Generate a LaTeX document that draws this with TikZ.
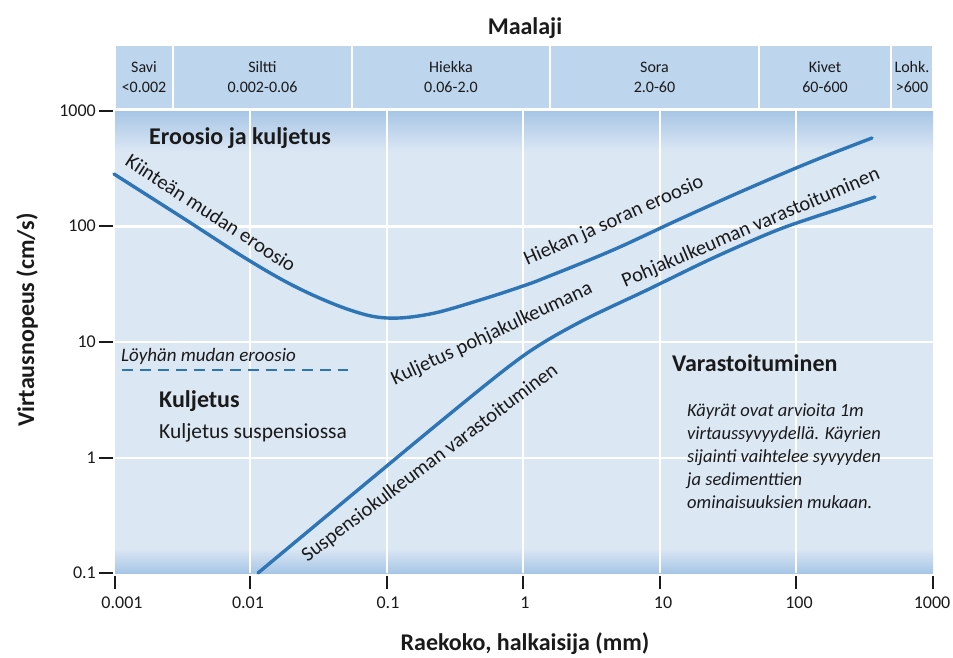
\documentclass[tikz,border=0pt]{standalone}
\usepackage{fontspec}
\setmainfont{Carlito}
\usetikzlibrary{positioning}

\definecolor{plotbg}{HTML}{DCE7F4}
\definecolor{headbg}{HTML}{BDD6EE}
\definecolor{bandbg}{HTML}{A7C6E6}
\definecolor{curveblue}{HTML}{2E75B6}
\definecolor{ink}{HTML}{1A1A1A}

\begin{document}
\begin{tikzpicture}[x=1pt, y=-1pt, text=ink,
    headbox/.style = {draw=white, line width=1.5pt, fill=headbg, align=center, inner sep=0pt,
                      minimum height=63pt, font=\fontsize{16}{20}\selectfont},
    bighead/.style = {font=\fontsize{24}{28}\selectfont\bfseries, inner sep=0pt},
    curvelab/.style = {font=\fontsize{20.5}{24}\selectfont, inner sep=0pt},
    ticklab/.style = {font=\fontsize{18}{20}\selectfont, inner sep=0pt},
    note/.style = {font=\fontsize{18.5}{23}\selectfont\itshape, align=left, inner sep=0pt},
    gridline/.style = {white, line width=1.3pt},
    tickmark/.style = {ink, line width=1.3pt},
    curveline/.style = {curveblue, line width=3.4pt, line cap=round}]

    \useasboundingbox (0,0) rectangle (953,657);

    % maalaji header
    \node[bighead] (maalaji) at (525,28) {Maalaji};
    \node[headbox, minimum width=58pt] (savi) at (144,77) {Savi\\<0.002};
    \node[headbox, minimum width=179pt] (siltti) at (262.5,77) {Siltti\\0.002-0.06};
    \node[headbox, minimum width=198pt] (hiekka) at (451,77) {Hiekka\\0.06-2.0};
    \node[headbox, minimum width=209pt] (sora) at (654.5,77) {Sora\\2.0-60};
    \node[headbox, minimum width=132pt] (kivet) at (825,77) {Kivet\\60-600};
    \node[headbox, minimum width=42pt] (lohk) at (912,77) {Lohk.\\>600};

    % plot area
    \fill[plotbg] (115,111) rectangle (933,573);
    \shade[top color=bandbg, bottom color=plotbg] (115,111) rectangle (933,152);
    \shade[top color=plotbg, bottom color=bandbg] (115,548) rectangle (933,573);
    \foreach \x in {250,387,523,660,796}
        \draw[gridline] (\x,111) -- (\x,573);
    \foreach \y in {342,458}
        \draw[gridline] (115,\y) -- (933,\y);
    \draw[gridline, line width=3pt] (115,226) -- (933,226);

    % axes
    \foreach \y/\lab [count=\i] in {111/1000, 226/100, 342/10, 458/1, 573/0.1} {
        \draw[tickmark] (99,\y) -- (113,\y);
        \node[ticklab, anchor=east] (ytick\i) at (96,\y) {\lab};
    }
    \foreach \x/\xl/\lab [count=\i] in {115/122/0.001, 250/248/0.01, 387/388/0.1, 523/525/1,
                                        660/663/10, 796/799/100, 933/932/1000} {
        \draw[tickmark] (\x,576) -- (\x,589);
        \node[ticklab] (xtick\i) at (\xl,603) {\lab};
    }
    \node[bighead] (xlab) at (525,644) {Raekoko, halkaisija (mm)};
    \node[bighead, rotate=90] (ylab) at (27,320) {Virtausnopeus (cm/s)};

    % curves
    \draw[curveline] plot[smooth, tension=0.6] coordinates {(114,174) (183,218) (250,261)
        (300,289) (350,310) (387,318) (430,314) (480,300) (523,286) (547,277) (613,250)
        (680,219) (747,189) (813,161) (872,138)};
    \draw[curveline] plot[smooth, tension=0.5] coordinates {(258,573) (440,422) (523,356)
        (580,322) (647,290) (713,258) (780,229) (845,207) (875,197)};
    \draw[curveblue, line width=2pt, dash pattern=on 11pt off 7pt] (122,370) -- (348,370);

    % labels
    \node[bighead, anchor=west] (erokulj) at (149,138) {Eroosio ja kuljetus};
    \node[curvelab, rotate=-33] (kiintea) at (211,213) {Kiinteän mudan eroosio};
    \node[curvelab, rotate=24] (hiekan) at (614,221) {Hiekan ja soran eroosio};
    \node[curvelab, rotate=25] (kuljpohja) at (492,334) {Kuljetus pohjakulkeumana};
    \node[curvelab, rotate=23] (pohjavar) at (751,228) {Pohjakulkeuman varastoituminen};
    \node[curvelab, rotate=37] (suspvar) at (430,463) {Suspensiokulkeuman varastoituminen};
    \node[ticklab, font=\fontsize{19}{20}\selectfont\itshape, anchor=west] (loyha) at (121,356) {Löyhän mudan eroosio};
    \node[bighead, anchor=west] (kulj) at (159,401) {Kuljetus};
    \node[curvelab, anchor=west, font=\fontsize{21.5}{24}\selectfont] (kuljsusp) at (159,433) {Kuljetus suspensiossa};
    \node[bighead, anchor=west] (varast) at (672,363) {Varastoituminen};
    \node[note, anchor=west] (huom) at (687,456) {Käyrät ovat arvioita 1m\\virtaussyvyydellä. Käyrien\\sijainti vaihtelee syvyyden\\ja sedimenttien\\ominaisuuksien mukaan.};

\end{tikzpicture}
\end{document}
